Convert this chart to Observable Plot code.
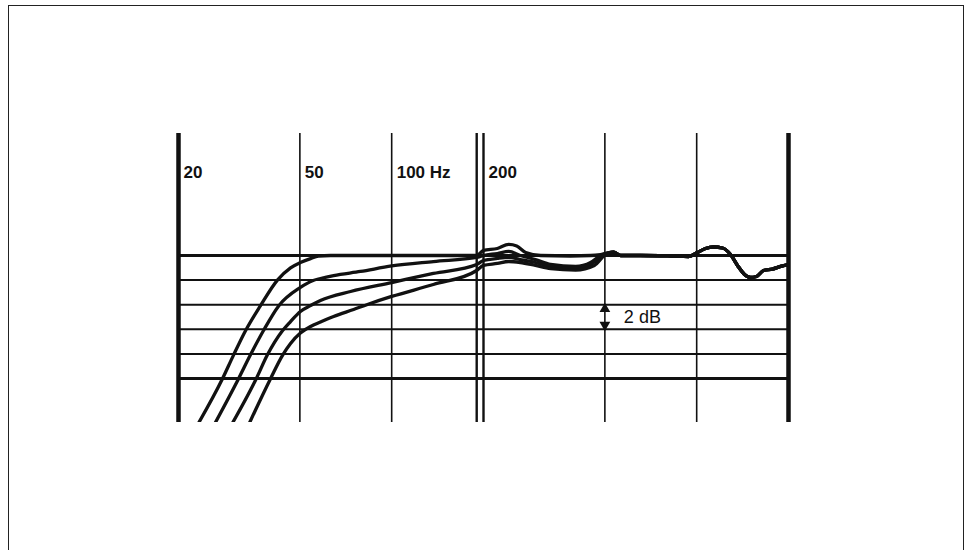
<!DOCTYPE html>
<html>
<head>
<meta charset="utf-8">
<script src="https://cdn.jsdelivr.net/npm/d3@7"></script>
<script src="https://cdn.jsdelivr.net/npm/@observablehq/plot@0.6"></script>
<style>
  html, body { margin: 0; padding: 0; background: #fff; overflow: hidden; }
  #wrap { position: relative; width: 971px; height: 550px; }
  #frame { position: absolute; left: 8px; top: 5px; width: 956px; height: 600px;
           border: 1.6px solid #222; box-sizing: border-box; pointer-events: none; }
  #chart { position: absolute; left: 0; top: 0; }
  #chart text { font-family: "Liberation Sans", Arial, sans-serif; }
</style>
</head>
<body>
<div id="wrap"><div id="chart"></div><div id="frame"></div></div>
<script>
// ---- data ----
const freqTicks = [20, 50, 100, 200];
const tickLabels = ["20", "50", "100 Hz", "200"];
const gridFreqBold = [20, 2000];
const gridFreqThin = [50, 100, 500, 1000];
const gridFreqDouble = [190, 200];
const gridDbBold = [0, -10];
const gridDbThin = [-2, -4, -6, -8];
const stepLabel = "2 dB";
const stepFreq = 500;
const stepFrom = -4;
const stepTo = -6;

// four low-frequency roll-off curves (Hz, dB)
const hzA = [23.3, 27.9, 30.3, 33.2, 37.1, 42.2, 46.6, 50.2, 54.2, 57.5, 63, 100, 150, 190,
             200, 222, 242, 257, 275, 308, 386, 449, 484];
const dbA = [-13.6, -10, -8.1, -6.1, -4.1, -2.0, -1.0, -0.57, -0.25, -0.05, 0, 0, 0, 0,
             0.41, 0.57, 0.9, 0.77, 0.24, 0, -0.04, 0, 0.08];
const hzB = [26.4, 31.5, 34.4, 38.0, 42.6, 50.2, 55.0, 58.4, 64.5, 79, 100, 137, 190,
             200, 222, 242, 264, 296, 332, 401, 449, 484];
const dbB = [-13.6, -10, -8.1, -6.1, -4.1, -2.6, -2.05, -1.87, -1.63, -1.3, -0.85, -0.49, -0.16,
             0, 0.16, 0.33, 0, -0.33, -0.73, -0.89, -0.57, 0];
const hzC = [30.1, 36.0, 39.1, 43.9, 46.6, 50.2, 54.2, 58.4, 73.3, 100, 137, 190,
             200, 222, 242, 264, 296, 332, 401, 455, 491];
const dbC = [-13.6, -10, -8.1, -6.1, -5.37, -4.55, -4.07, -3.66, -2.93, -2.2, -1.46, -0.73,
             -0.41, -0.24, -0.16, -0.33, -0.57, -0.89, -1.06, -0.65, 0];
const hzD = [34.2, 40.1, 43.9, 46.6, 50.2, 54.2, 58.4, 64.5, 75, 83.3, 100, 137, 190,
             200, 222, 242, 264, 296, 332, 401, 462, 499];
const dbD = [-13.6, -10, -8.1, -7.15, -6.3, -5.77, -5.41, -4.96, -4.39, -3.98, -3.33, -2.36, -1.22,
             -0.81, -0.65, -0.49, -0.57, -0.81, -1.06, -1.18, -0.81, 0];
// common high-frequency part shared by all curves
const hzTail = [534, 563, 654, 821, 940, 1006, 1069, 1136, 1215, 1291, 1361, 1435, 1500, 1571, 1656, 1772, 1884, 2000];
const dbTail = [0.28, 0, 0, -0.04, -0.08, 0.24, 0.57, 0.69, 0.61, 0.08, -0.81, -1.54, -1.79, -1.71, -1.22, -1.1, -0.89, -0.73];

// ---- build table ----
const series = [["A", hzA, dbA], ["B", hzB, dbB], ["C", hzC, dbC], ["D", hzD, dbD]];
const rows = [];
for (const [name, hz, db] of series) {
  hz.forEach((f, i) => rows.push({name, f, db: db[i]}));
  hzTail.forEach((f, i) => rows.push({name, f, db: dbTail[i]}));
}
const labels = freqTicks.map((f, i) => ({f, label: tickLabels[i]}));

const ink = "#111";
const chart = Plot.plot({
  width: 971,
  height: 550,
  marginLeft: 178,
  marginRight: 183,
  marginTop: 133,
  marginBottom: 128,
  x: {type: "log", domain: [20, 2000], axis: null},
  y: {domain: [-13.58, 9.92], axis: null},
  marks: [
    Plot.ruleY(gridDbThin, {x1: 20, x2: 2000, stroke: ink, strokeWidth: 2}),
    Plot.ruleY(gridDbBold, {x1: 20, x2: 2000, stroke: ink, strokeWidth: 3}),
    Plot.ruleX(gridFreqThin, {stroke: ink, strokeWidth: 1.6}),
    Plot.ruleX(gridFreqDouble, {stroke: ink, strokeWidth: 2.4}),
    Plot.ruleX(gridFreqBold, {stroke: ink, strokeWidth: 4.5}),
    Plot.line(rows, {x: "f", y: "db", z: "name", stroke: ink, strokeWidth: 3.3, curve: "monotone-x", clip: true}),
    Plot.text(labels, {x: "f", y: 6.75, text: "label", textAnchor: "start", dx: 5, fontSize: 17, fontWeight: "bold", fill: ink}),
    Plot.dot([stepFrom], {x: stepFreq, y: d => d - 0.35, symbol: "triangle", r: 4, fill: ink, stroke: null}),
    Plot.dot([stepTo], {x: stepFreq, y: d => d + 0.35, symbol: "triangle", r: 4, fill: ink, stroke: null, rotate: 180}),
    Plot.text([stepLabel], {x: stepFreq, y: (stepFrom + stepTo) / 2, text: d => d, textAnchor: "start", dx: 19, fontSize: 18, fill: ink})
  ]
});
document.getElementById("chart").appendChild(chart);
</script>
</body>
</html>
